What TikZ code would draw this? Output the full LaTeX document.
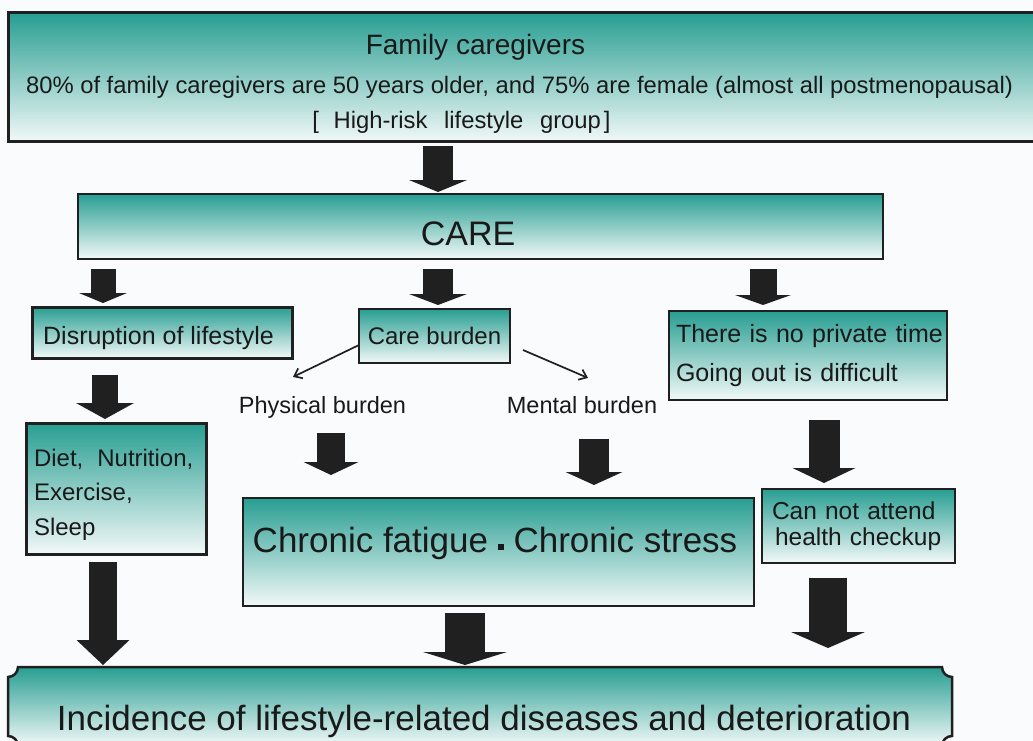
\documentclass[tikz,border=0pt]{standalone}
\usepackage{fontspec}
\setmainfont{Liberation Sans}
\usetikzlibrary{arrows.meta,calc,backgrounds}
\definecolor{tealtop}{RGB}{40,158,146}
\definecolor{tealbot}{RGB}{242,249,248}
\definecolor{edge}{RGB}{32,32,32}
\definecolor{pagebg}{RGB}{250,251,252}
\newcommand{\nudge}[3]{\raisebox{#2}{\kern#1\relax#3\kern-#1\relax}}
\newcommand{\fsize}[2]{\fontsize{#1}{#2}\selectfont}

\begin{document}
\begin{tikzpicture}[x=1pt,y=-1pt,
    tealbox/.style={draw=edge,line width=2pt,top color=tealtop,bottom color=tealbot,outer sep=0pt,inner sep=0pt,text=black!90},
    heavy/.style={tealbox,line width=3pt},
    freetext/.style={inner sep=3.33pt,anchor=base,text=black!90},
    pointer/.style={draw=edge,line width=1.7pt,-{Straight Barb[length=7pt,width=11pt]}}]
  \useasboundingbox (0,0) rectangle (1033,741);
  \begin{pgfonlayer}{background}
    \fill[pagebg] (0,0) rectangle (1033,741);
  \end{pgfonlayer}

  \node[heavy,minimum width=1037pt,minimum height=129pt] (fam) at (526.5,77.5) {};
  \node[freetext,font=\fsize{28}{34}] (famtitle) at (475.5,55) {Family caregivers};
  \node[freetext,font=\fsize{23.8}{28}] (famshare) at (519.5,93.3) {80\% of family caregivers are 50 years older, and 75\% are female (almost all postmenopausal)};
  \node[freetext,font=\fsize{23.8}{28}] (famgroup) at (461.5,128.3) {[\hspace{8pt} High-risk\hspace{10pt} lifestyle\hspace{10pt} group\hspace{3pt}]};

  \node[tealbox,minimum width=805pt,minimum height=65pt,text height=24.3pt,text depth=0pt,font=\fsize{34}{40}] (care) at (480.5,226.5) {\nudge{-12.5pt}{-7pt}{CARE}};

  \node[heavy,minimum width=260pt,minimum height=51pt,text height=17.9pt,text depth=0pt,font=\fsize{25}{30}] (disr) at (162,332.5) {\nudge{-3.5pt}{-3pt}{Disruption of lifestyle}};
  \node[tealbox,minimum width=151pt,minimum height=54pt,text height=17.2pt,text depth=0pt,font=\fsize{24}{29}] (burden) at (434.5,336) {Care burden};
  \node[tealbox,minimum width=278pt,minimum height=89pt,inner xsep=7pt,text width=264pt,align=left,font=\fsize{25}{39.5}] (priv) at (808,355.5) {\mbox{There is no private time}\\\mbox{Going out is difficult}};

  \node[freetext,font=\fsize{23.5}{28}] (phys) at (322.5,413.3) {Physical burden};
  \node[freetext,font=\fsize{23.5}{28}] (mental) at (582,413.3) {Mental burden};

  \node[heavy,minimum width=180pt,minimum height=131pt,inner xsep=8pt,text width=164pt,align=left,font=\fsize{24}{34.5}] (diet) at (116,488.5) {\rule{0pt}{29.5pt}\mbox{Diet,\hspace{6pt} Nutrition,}\\Exercise,\\Sleep};
  \node[tealbox,minimum width=511pt,minimum height=108pt,text height=25pt,text depth=0pt,font=\fsize{35}{42}] (chron) at (498.5,552) {\nudge{-3.5pt}{12pt}{Chronic fatigue \raisebox{3pt}{\rule{6pt}{6pt}} Chronic stress}};
  \node[tealbox,minimum width=193pt,minimum height=74pt,inner xsep=10pt,text width=173pt,align=left,font=\fsize{24.5}{26}] (cannot) at (858.5,526) {Can not attend\\\hspace*{3pt}health checkup};

  \node[minimum width=944pt,minimum height=79pt,inner sep=0pt,outer sep=0pt,text height=25pt,text depth=0pt,font=\fsize{35}{42},text=black!90] (inc) at (480,706.5) {\nudge{4pt}{-11pt}{Incidence of lifestyle-related diseases and deterioration}};
  \begin{pgfonlayer}{background}
    \draw[draw=edge,line width=2.5pt,top color=tealtop,bottom color=tealbot]
      ($(inc.north west)+(10,0)$) -- ($(inc.north east)+(-10,0)$)
      .. controls +(0,5.5) and +(-5.5,0) .. ($(inc.north east)+(0,10)$)
      -- ($(inc.south east)+(0,-10)$)
      .. controls +(-5.5,0) and +(0,-5.5) .. ($(inc.south east)+(-10,0)$)
      -- ($(inc.south west)+(10,0)$)
      .. controls +(0,-5.5) and +(5.5,0) .. ($(inc.south west)+(0,-10)$)
      -- ($(inc.north west)+(0,10)$)
      .. controls +(5.5,0) and +(0,5.5) .. ($(inc.north west)+(10,0)$) -- cycle;
  \end{pgfonlayer}

  \foreach \src/\dst/\x/\w/\hw/\hl/\a/\b in {fam/care/438/30/58/12/4/2, care/disr/103/25/48/10/10/4,
      care/burden/438/30/58/11/10/4, care/priv/763/27/56/10/10/6, disr/diet/105/26/58/16/17/4,
      diet/inc/103/28/53/25/8/2, phys/chron/331/28/55/13/11.5/23, mental/chron/594/30/57/13/21.5/13,
      priv/cannot/824/31/63/15/20/6, chron/inc/465/40/84/13/7/2, cannot/inc/828/38/74/16/15/19}
    \draw[draw=edge,line width=\w pt,-{Triangle[width=\hw pt,length=\hl pt,line width=0pt]},shorten <=\a pt,shorten >=\b pt] (\x,0 |- \src.south) -- (\x,0 |- \dst.north);

  \draw[pointer] ([yshift=-9pt]burden.west) -- ($(phys.north)+(-29.5,-15.8)$);
  \draw[pointer] ($(burden.east)+(13,14)$) -- ($(mental.north)+(6,-14.8)$);
\end{tikzpicture}
\end{document}
